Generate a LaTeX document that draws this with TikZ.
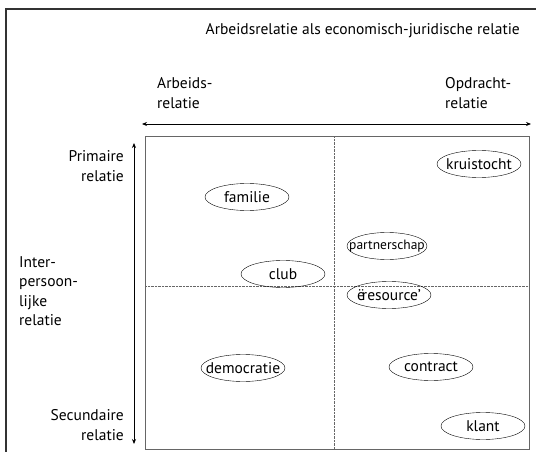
\documentclass[tikz,border=0pt]{standalone}
\usepackage{fontspec}
\setmainfont{PT Sans}
\usetikzlibrary{shapes.geometric,arrows.meta}

% keep the ellipse size fixed, wide words may touch its edge
\newcommand{\ovtext}[1]{\makebox[50pt]{#1}}

\tikzset{
  oval/.style={ellipse,draw,minimum width=84pt,minimum height=27pt,inner sep=0pt,font=\fontsize{15.5}{16}\selectfont},
  lbl/.style={font=\fontsize{15.5}{20}\selectfont,inner sep=0pt},
  axis/.style={thick,{Stealth[length=5pt,width=4pt]}-{Stealth[length=5pt,width=4pt]}}
}

\begin{document}
\begin{tikzpicture}[x=1pt,y=-1pt]

\useasboundingbox (0,0) rectangle (536,452);

% The outer frame, only top and left are visible
\draw[line width=1.6pt,black!80] (6,460) -- (6,9) -- (540,9);

% The field and its quadrants
\coordinate (NW) at (145,136);
\coordinate (SE) at (529,449);
\draw[black!60] (NW) rectangle (SE);
\draw[densely dotted,black!60] (334,136) -- (334,449);
\draw[densely dotted,black!60] (145,286) -- (529,286);

% The two axes
\coordinate (L) at (142,124);
\coordinate (R) at (531,124);
\draw[axis] (L) -- (R);
\coordinate (T) at (134,143);
\coordinate (B) at (134,444);
\draw[axis] (T) -- (B);

% Titles
\node[lbl,anchor=base east] (title) at (520,35) {Arbeidsrelatie als economisch-juridische relatie};
\node[lbl,anchor=north west,align=left] (arb) at (157,77) {Arbeids-\\relatie};
\node[lbl,anchor=north west,align=left] (opd) at (445,77) {Opdracht-\\relatie};
\node[lbl,anchor=north east,align=right] (prim) at (124,150) {Primaire\\relatie};
\node[lbl,anchor=north west,align=left,font=\fontsize{15.5}{19.5}\selectfont] (inter) at (19,256) {Inter-\\persoon-\\lijke\\relatie};
\node[lbl,anchor=north east,align=right] (sec) at (124,409) {Secundaire\\relatie};

% The relations
\node[oval] (familie) at (247,197) {\ovtext{familie}};
\node[oval] (club) at (283,274) {\ovtext{club}};
\node[oval] (democratie) at (243,368) {\ovtext{democratie}};
\node[oval] (kruistocht) at (479,164) {\ovtext{kruistocht}};
\node[oval,minimum width=80pt,font=\fontsize{13.5}{16}\selectfont] (partnerschap) at (387,246) {\ovtext{partnerschap}};
\node[oval] (resource) at (389,295) {\ovtext{ë\kern-3pt resource’}};
\node[oval] (contract) at (431,367) {\ovtext{contract}};
\node[oval] (klant) at (483,426) {\ovtext{klant}};

\end{tikzpicture}
\end{document}
